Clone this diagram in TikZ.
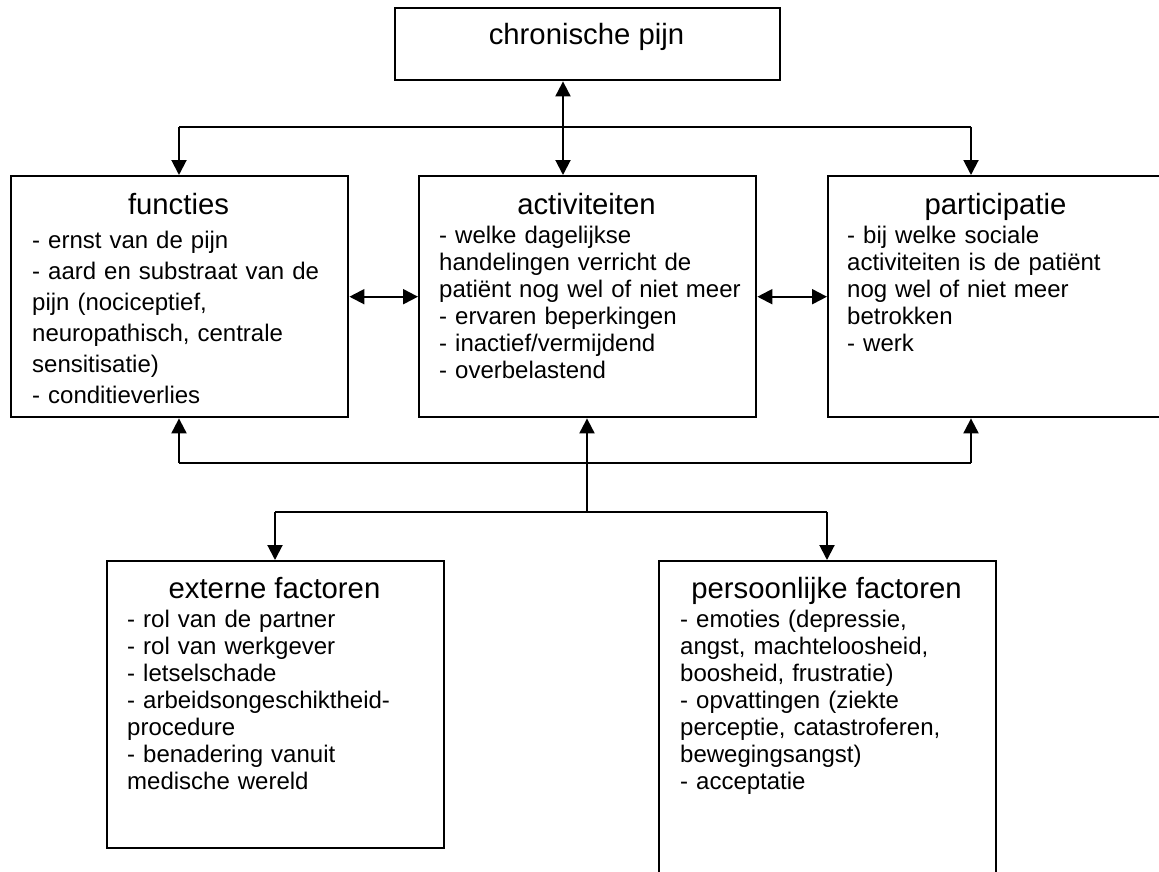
\documentclass[tikz,border=0pt]{standalone}
\usepackage{fontspec}
\setmainfont{Liberation Sans}
\usepackage{tikz}
\usetikzlibrary{arrows.meta,positioning}

\begin{document}
\begin{tikzpicture}[x=1pt,y=-1pt,
  box/.style={draw,line width=2.4pt,rectangle,inner sep=0pt,anchor=north west},
  ttl/.style={font=\fontsize{29.3}{33}\selectfont,inner sep=0pt,anchor=base},
  body/.style={font=\fontsize{24}{27}\selectfont,inner sep=0pt,anchor=base west,text width=330pt,align=left},
  arr/.style={line width=2pt,-{Triangle[length=15pt,width=15pt]}},
  dbl/.style={line width=2pt,{Triangle[length=15pt,width=15pt]}-{Triangle[length=15pt,width=15pt]}}]
\useasboundingbox (0,0) rectangle (1159,872);
% boxes
\node[box,minimum width=385pt,minimum height=72pt] (top) at (394,7) {};
\node[box,minimum width=337pt,minimum height=241pt] (fun) at (10,175) {};
\node[box,minimum width=337pt,minimum height=241pt] (act) at (418,175) {};
\node[box,minimum width=337pt,minimum height=241pt] (part) at (827,175) {};
\node[box,minimum width=337pt,minimum height=287pt] (ext) at (106,560) {};
\node[box,minimum width=337pt,minimum height=340pt] (pers) at (658,560) {};
% texts
\node[ttl] (top-t) at (586.5,45) {chronische pijn};
\node[ttl] (fun-t) at (178.5,214) {functies};
\node[body,font=\fontsize{24}{31}\selectfont] (fun-b) at (32,248) {- ernst van de pijn\\
  - aard en substraat van de\\ pijn (nociceptief,\\ neuropathisch, centrale\\
  sensitisatie)\\ - conditieverlies};
\node[ttl] (act-t) at (586.5,214) {activiteiten};
\node[body] (act-b) at (439,243) {- welke dagelijkse\\ handelingen verricht de\\
  patiënt nog wel of niet meer\\ - ervaren beperkingen\\ - inactief/vermijdend\\
  - overbelastend};
\node[ttl] (part-t) at (995.5,214) {participatie};
\node[body] (part-b) at (847,243) {- bij welke sociale\\ activiteiten is de patiënt\\
  nog wel of niet meer\\ betrokken\\ - werk};
\node[ttl] (ext-t) at (274.5,598) {externe factoren};
\node[body] (ext-b) at (127,627) {- rol van de partner\\ - rol van werkgever\\
  - letselschade\\ - arbeidsongeschiktheid-\\ procedure\\ - benadering vanuit\\
  medische wereld};
\node[ttl] (pers-t) at (826.5,598) {persoonlijke factoren};
\node[body] (pers-b) at (680,627) {- emoties (depressie,\\ angst, machteloosheid,\\
  boosheid, frustratie)\\ - opvattingen (ziekte\\ perceptie, catastroferen,\\
  bewegingsangst)\\ - acceptatie};
% junctions
\coordinate (tj) at (563,127);
\coordinate (tl) at (179,127);
\coordinate (tr) at (971,127);
\coordinate (bl) at (179,463);
\coordinate (br) at (971,463);
\coordinate (sm) at (587,512);
\coordinate (sl) at (275,512);
\coordinate (sr) at (827,512);
% connectors
\draw[dbl] (top.south -| tj) -- (act.north -| tj);
\draw[line width=2pt] (tl) -- (tr);
\draw[arr] (tl) -- (fun.north -| tl);
\draw[arr] (tr) -- (part.north -| tr);
\draw[dbl] (fun.east) -- (act.west);
\draw[dbl] (act.east) -- (part.west);
\draw[line width=2pt] (bl) -- (br);
\draw[arr] (bl) -- (fun.south -| bl);
\draw[arr] (br) -- (part.south -| br);
\draw[arr] (sm) -- (act.south -| sm);
\draw[line width=2pt] (sl) -- (sr);
\draw[arr] (sl) -- (ext.north -| sl);
\draw[arr] (sr) -- (pers.north -| sr);
\end{tikzpicture}
\end{document}
